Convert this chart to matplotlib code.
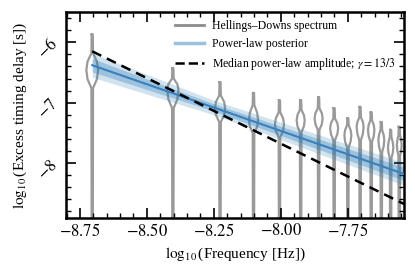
import numpy as np
import matplotlib.pyplot as plt
from matplotlib.ticker import MultipleLocator, FuncFormatter

plt.rcParams['font.family'] = ['Liberation Serif', 'DejaVu Serif']
plt.rcParams['mathtext.fontset'] = 'stix'

# frequency bins k/T, T ~ 16.03 yr
Tspan = 16.03 * 365.25 * 86400
k_bins = np.arange(1, 15)
log_f = np.log10(k_bins / Tspan)

# violin profiles (log10 delay)
vio_top = [-5.87, -6.43, -6.66, -6.84, -6.96, -6.96, -6.91, -7.09, -7.26, -7.07, -7.16, -7.32, -7.45, -7.40]
vio_b0 = [-6.18, -6.60, -6.88, -7.04, -7.16, -7.12, -7.09, -7.26, -7.37, -7.24, -7.29, -7.45, -7.57, -7.54]
vio_peak = [-6.46, -6.79, -7.09, -7.29, -7.36, -7.29, -7.26, -7.42, -7.54, -7.40, -7.45, -7.62, -7.74, -7.70]
vio_b1 = [-6.76, -7.09, -7.32, -7.50, -7.57, -7.49, -7.45, -7.62, -7.74, -7.62, -7.65, -7.82, -7.92, -7.88]
vio_hw = [0.022, 0.021, 0.019, 0.017, 0.017, 0.015, 0.015, 0.015, 0.013, 0.013, 0.012, 0.011, 0.010, 0.009]

# power-law posterior band
band_x = [-8.704, -8.25, -7.52]
band_med = [-6.38, -7.08, -8.21]
band_in = [0.11, 0.06, 0.11]
band_out = [0.20, 0.12, 0.19]

# median power-law amplitude, gamma = 13/3
pl_x = [-8.704, -7.52]
pl_y = [-6.15, -8.72]

fig = plt.figure(figsize=(4.15, 2.74), dpi=100)
ax = fig.add_axes([0.159, 0.204, 0.814, 0.752])

neck = 0.002
vcol = '#9a9a9a'
for i in range(len(log_f)):
    c = log_f[i]
    up = 0.5 * (vio_b0[i] + vio_peak[i])
    dn = 0.5 * (vio_peak[i] + vio_b1[i])
    ys = [vio_top[i], vio_b0[i], up, vio_peak[i], dn, vio_b1[i], -9.5]
    ws = [neck, neck * 1.5, 0.8 * vio_hw[i], vio_hw[i], 0.8 * vio_hw[i], neck * 1.5, neck]
    xs = [c - w for w in ws] + [c + w for w in ws[::-1]]
    yy = ys + ys[::-1]
    ax.plot(xs + [xs[0]], yy + [yy[0]], color=vcol, lw=1.6, zorder=1)

med = np.array(band_med)
ax.fill_between(band_x, med - np.array(band_out), med + np.array(band_out),
                color='#1f77b4', alpha=0.2, lw=0, zorder=2)
ax.fill_between(band_x, med - np.array(band_in), med + np.array(band_in),
                color='#1f77b4', alpha=0.3, lw=0, zorder=2)
ax.plot(band_x, band_med, color='#3a80be', lw=1.5, zorder=3)
ax.plot(pl_x, pl_y, color='k', ls='--', lw=1.8, dashes=(4, 2.5), zorder=4)

# legend handles
ax.plot([], [], color='#8c8c8c', lw=2, label='Hellings–Downs spectrum')
ax.plot([], [], color='#1f77b4', alpha=0.45, lw=2.5, label='Power-law posterior')
ax.plot([], [], color='k', ls='--', lw=1.8, label=r'Median power-law amplitude; $\gamma = 13/3$')
ax.legend(loc='upper right', frameon=False, fontsize=8.5, handlelength=2.4,
          handletextpad=0.7, borderaxespad=0.3, borderpad=0.4, labelspacing=0.5)

ax.set_xlim(-8.802, -7.541)
ax.set_ylim(-8.91, -5.5)
ax.xaxis.set_major_locator(MultipleLocator(0.25))
ax.xaxis.set_minor_locator(MultipleLocator(0.05))
ax.yaxis.set_major_locator(MultipleLocator(1))
ax.yaxis.set_minor_locator(MultipleLocator(0.2))
ax.xaxis.set_major_formatter(FuncFormatter(lambda v, p: r'$%.2f$' % v))
ax.yaxis.set_major_formatter(FuncFormatter(lambda v, p: r'$%d$' % round(v)))
ax.tick_params(which='both', direction='in', top=True, right=True, labelsize=12)
ax.tick_params(which='major', length=7, width=1.2)
ax.tick_params(which='minor', length=3.5, width=1.0)
for lab in ax.get_yticklabels():
    lab.set_rotation(45)
for s in ax.spines.values():
    s.set_linewidth(1.8)

ax.set_xlabel(r'$\log_{10}$(Frequency [Hz])', fontsize=11)
ax.set_ylabel(r'$\log_{10}$(Excess timing delay [s])', fontsize=11)

fig.savefig('out.png', dpi=100)
